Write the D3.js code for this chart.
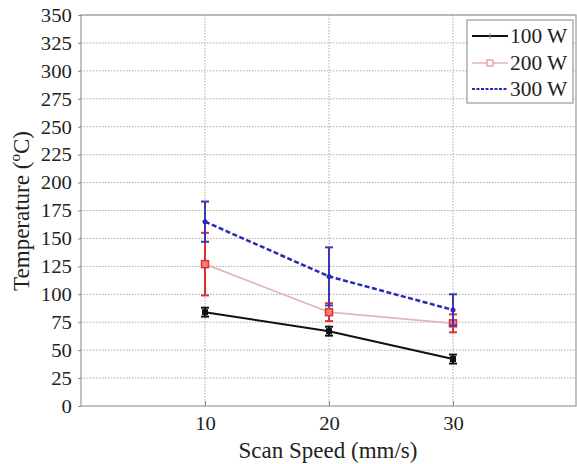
<!DOCTYPE html>
<html><head><meta charset="utf-8">
<script src="https://cdn.jsdelivr.net/npm/d3@7"></script>
<style>body{margin:0;background:#fff}svg{display:block}</style>
</head><body><svg id="c" width="577" height="464" font-family="Liberation Serif"></svg>
<script>
const speeds = [10, 20, 30];
const p100 = [84, 67, 42];
const e100 = [4, 4, 4];
const p200 = [127, 84, 74];
const e200 = [28, 8, 8];
const p300 = [165, 116, 86];
const e300 = [18, 26, 14];
const yTicks = d3.range(0, 351, 25);
const xTicks = [10, 20, 30];
const legendLabels = ["100 W", "200 W", "300 W"];

const FF = "Liberation Serif";
const svg = d3.select("#c");
const L = 81, R = 576, T = 15, B = 406;
const x = d3.scaleLinear().domain([0, 40]).range([L, L + 496]);
const y = d3.scaleLinear().domain([0, 350]).range([B, T]);

// grid
svg.append("g").selectAll("line").data(yTicks.slice(1)).join("line")
  .attr("x1", L).attr("x2", R).attr("y1", d => y(d)).attr("y2", d => y(d))
  .attr("stroke", "#aaa").attr("stroke-width", 1).attr("stroke-dasharray", "1.5,1.5");
svg.append("g").selectAll("line").data(xTicks).join("line")
  .attr("x1", d => x(d)).attr("x2", d => x(d)).attr("y1", T).attr("y2", B)
  .attr("stroke", "#aaa").attr("stroke-width", 1).attr("stroke-dasharray", "1.5,1.5");

// frame
svg.append("rect").attr("x", L).attr("y", T).attr("width", R - L).attr("height", B - T)
  .attr("fill", "none").attr("stroke", "#999").attr("stroke-width", 1.2);

// axes
const ya = svg.append("g").attr("transform", `translate(${L},0)`)
  .call(d3.axisLeft(y).tickValues(yTicks).tickSize(3).tickPadding(5));
ya.attr("font-family", FF);
ya.select(".domain").remove();
ya.selectAll("line").attr("stroke", "#888");
ya.selectAll("text").attr("font-size", 18).attr("font-family", FF).attr("fill", "#222")
  .attr("dy", "0.35em").attr("transform", "scale(1.15,1)");
const xa = svg.append("g").attr("transform", `translate(0,${B})`)
  .call(d3.axisBottom(x).tickValues(xTicks).tickSize(-5).tickPadding(11));
xa.attr("font-family", FF);
xa.select(".domain").remove();
xa.selectAll("line").attr("stroke", "#888");
xa.selectAll("text").attr("font-size", 18).attr("font-family", FF).attr("fill", "#222")
  .attr("transform", "scale(1.15,1)");

// titles
svg.append("text").attr("x", 328).attr("y", 458).attr("text-anchor", "middle").attr("font-family", FF)
  .attr("font-size", 23).attr("fill", "#222").text("Scan Speed (mm/s)");
const yt = svg.append("text").attr("transform", "translate(29,211) rotate(-90)").attr("font-family", FF)
  .attr("text-anchor", "middle").attr("font-size", 23).attr("fill", "#222");
yt.append("tspan").text("Temperature (");
yt.append("tspan").attr("font-size", 15).attr("dy", -9).text("o");
yt.append("tspan").attr("dy", 9).text("C)");

const line = d3.line().x(d => x(d[0])).y(d => y(d[1]));
function errbars(vals, errs, color, w) {
  const g = svg.append("g");
  speeds.forEach((s, i) => {
    const cx = x(s);
    g.append("line").attr("x1", cx).attr("x2", cx).attr("y1", y(vals[i] - errs[i])).attr("y2", y(vals[i] + errs[i]))
      .attr("stroke", color).attr("stroke-width", w);
    [vals[i] - errs[i], vals[i] + errs[i]].forEach(v =>
      g.append("line").attr("x1", cx - 4).attr("x2", cx + 4).attr("y1", y(v)).attr("y2", y(v))
        .attr("stroke", color).attr("stroke-width", w));
  });
}

// 100 W
svg.append("path").datum(speeds.map((s, i) => [s, p100[i]])).attr("d", line)
  .attr("fill", "none").attr("stroke", "#111").attr("stroke-width", 2);
errbars(p100, e100, "#111", 2);
svg.append("g").selectAll("rect").data(speeds).join("rect")
  .attr("x", d => x(d) - 3).attr("y", (d, i) => y(p100[i]) - 3).attr("width", 6).attr("height", 6)
  .attr("fill", "#111");

// 200 W
svg.append("path").datum(speeds.map((s, i) => [s, p200[i]])).attr("d", line)
  .attr("fill", "none").attr("stroke", "#e3b5b8").attr("stroke-width", 1.8);
errbars(p200, e200, "#e03030", 2);
svg.append("g").selectAll("rect").data(speeds).join("rect")
  .attr("x", d => x(d) - 3.5).attr("y", (d, i) => y(p200[i]) - 3.5).attr("width", 7).attr("height", 7)
  .attr("fill", "#f08080").attr("stroke", "#e03030").attr("stroke-width", 1.5);

// 300 W
svg.append("path").datum(speeds.map((s, i) => [s, p300[i]])).attr("d", line)
  .attr("fill", "none").attr("stroke", "#2a2ab8").attr("stroke-width", 2.5).attr("stroke-dasharray", "5,2.5");
errbars(p300, e300, "#3a3ab0", 2);
svg.append("g").selectAll("circle").data(speeds).join("circle")
  .attr("cx", d => x(d)).attr("cy", (d, i) => y(p300[i])).attr("r", 2.5).attr("fill", "#2a2ab8");

// legend
const lg = svg.append("g");
lg.append("rect").attr("x", 467).attr("y", 20).attr("width", 106).attr("height", 83)
  .attr("fill", "#fff").attr("stroke", "#999").attr("stroke-width", 1.2);
const ly = [36, 63, 89];
const lstyles = [
  {c: "#111", w: 2, dash: null},
  {c: "#e3b5b8", w: 1.5, dash: null},
  {c: "#2a2ab8", w: 2, dash: "3,1.5"}
];
legendLabels.forEach((t, i) => {
  lg.append("line").attr("x1", 472).attr("x2", 508).attr("y1", ly[i]).attr("y2", ly[i])
    .attr("stroke", lstyles[i].c).attr("stroke-width", lstyles[i].w).attr("stroke-dasharray", lstyles[i].dash);
  lg.append("text").attr("x", 510 / 1.07).attr("y", ly[i] + 7).attr("font-size", 20).attr("fill", "#222")
    .attr("font-family", FF).attr("transform", "scale(1.07,1)").text(t);
});
lg.append("line").attr("x1", 490).attr("x2", 490).attr("y1", 33).attr("y2", 39).attr("stroke", "#888").attr("stroke-width", 1);
lg.append("rect").attr("x", 487).attr("y", 60).attr("width", 6).attr("height", 6)
  .attr("fill", "#fff").attr("stroke", "#e08080").attr("stroke-width", 1);
</script></body></html>
